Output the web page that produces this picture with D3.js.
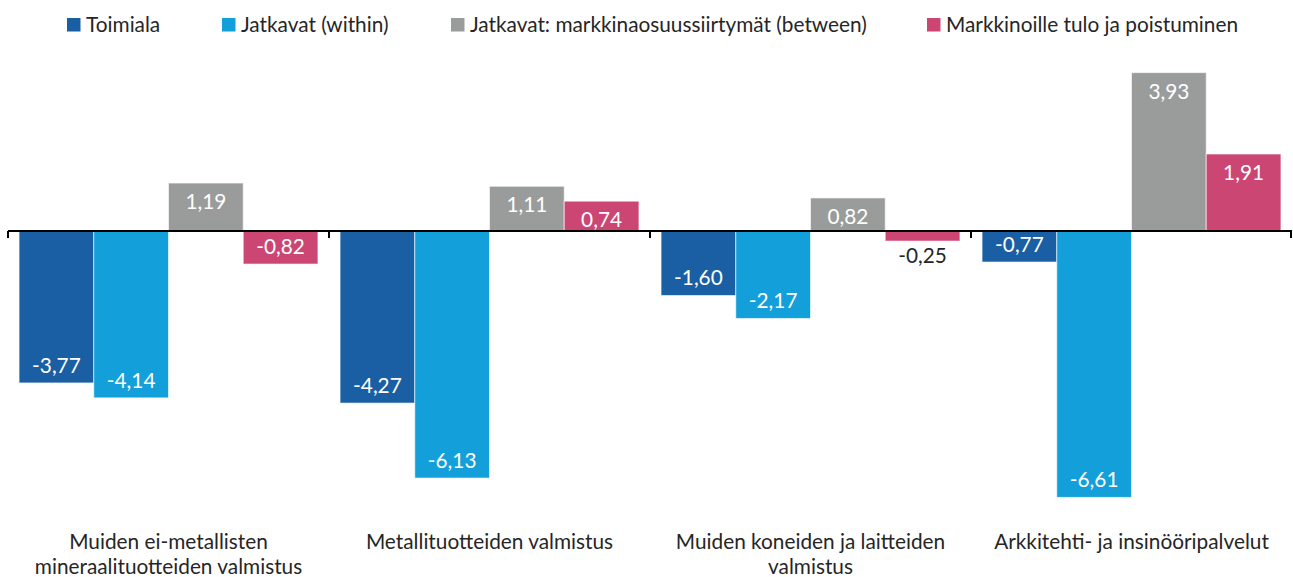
<!DOCTYPE html>
<html lang="fi">
<head>
    <meta charset="UTF-8">
    <title>Toimialat</title>
    <script src="https://cdnjs.cloudflare.com/ajax/libs/d3/7.8.5/d3.min.js"></script>
    <style>
        body { margin: 0; background: #fff; font-family: Lato, "Open Sans", sans-serif; }
        svg text { fill: #262626; }
        .bar-label { font-size: 20.8px; text-anchor: middle; }
        .legend text { font-size: 20.8px; }
        .cat-label { font-size: 20.8px; text-anchor: middle; }
    </style>
</head>
<body>
    <div id="chart"></div>
    <script>
        // Data
        const categories = [
            ["Muiden ei-metallisten", "mineraalituotteiden valmistus"],
            ["Metallituotteiden valmistus"],
            ["Muiden koneiden ja laitteiden", "valmistus"],
            ["Arkkitehti- ja insinööripalvelut"]
        ];
        const seriesNames = [
            "Toimiala",
            "Jatkavat (within)",
            "Jatkavat: markkinaosuussiirtymät (between)",
            "Markkinoille tulo ja poistuminen"
        ];
        const toimiala = [-3.77, -4.27, -1.60, -0.77];
        const within = [-4.14, -6.13, -2.17, -6.61];
        const between = [1.19, 1.11, 0.82, 3.93];
        const entryExit = [-0.82, 0.74, -0.25, 1.91];
        const colors = ["#1a5fa3", "#139fd9", "#9a9c9c", "#cc4673"];

        const seriesValues = [toimiala, within, between, entryExit];

        const width = 1293, height = 577;
        const svg = d3.select("#chart").append("svg")
            .attr("width", width)
            .attr("height", height);

        const x0 = d3.scaleBand()
            .domain(d3.range(categories.length))
            .range([8, 1292])
            .paddingInner(0);

        const x1 = d3.scaleBand()
            .domain(d3.range(seriesNames.length))
            .range([0, x0.bandwidth()])
            .paddingInner(0)
            .paddingOuter(0.148);

        const y = d3.scaleLinear()
            .domain([-7, 4.5])
            .range([513.1, 49.65]);

        const fmt = v => d3.format(".2f")(v).replace(".", ",").replace("−", "-");
        const small = v => Math.abs(y(v) - y(0)) < 25;

        // Bars
        const groups = svg.append("g").selectAll("g")
            .data(categories.map((c, i) => i))
            .join("g")
            .attr("transform", i => `translate(${x0(i)},0)`);

        groups.selectAll("rect")
            .data(i => seriesValues.map((s, k) => ({ k, v: s[i] })))
            .join("rect")
            .attr("x", d => x1(d.k))
            .attr("width", x1.bandwidth())
            .attr("y", d => y(Math.max(0, d.v)))
            .attr("height", d => Math.abs(y(d.v) - y(0)))
            .attr("fill", d => colors[d.k])
            .attr("stroke", "#ffffff")
            .attr("stroke-opacity", 0.6)
            .attr("stroke-width", 1);

        groups.selectAll("text")
            .data(i => seriesValues.map((s, k) => ({ k, v: s[i] })))
            .join("text")
            .attr("class", "bar-label")
            .attr("x", d => x1(d.k) + x1.bandwidth() / 2)
            .attr("y", d => {
                if (small(d.v)) return y(d.v) + 22;
                return d.v < 0 ? y(d.v) - 10 : y(d.v) + 26;
            })
            .style("fill", d => small(d.v) ? "#262626" : "#ffffff")
            .text(d => fmt(d.v));

        // Zero axis with tick marks between groups
        const axis = svg.append("g").attr("transform", `translate(0,${y(0)})`);
        axis.append("line")
            .attr("x1", x0.range()[0]).attr("x2", x0.range()[1])
            .attr("stroke", "#000").attr("stroke-width", 2);
        axis.selectAll(".tick")
            .data(d3.range(categories.length + 1))
            .join("line")
            .attr("x1", i => i < categories.length ? x0(i) : x0.range()[1] - 1)
            .attr("x2", i => i < categories.length ? x0(i) : x0.range()[1] - 1)
            .attr("y1", 0).attr("y2", 7)
            .attr("stroke", "#000").attr("stroke-width", 2);

        // Category labels
        svg.append("g").selectAll("text")
            .data(categories)
            .join("text")
            .attr("class", "cat-label")
            .attr("x", (c, i) => x0(i) + x0.bandwidth() / 2)
            .attr("y", 549)
            .selectAll("tspan")
            .data(c => c)
            .join("tspan")
            .attr("x", function() { return d3.select(this.parentNode).attr("x"); })
            .attr("dy", (t, j) => j === 0 ? 0 : 25)
            .text(t => t);

        // Legend
        const legendX = [67, 222, 451, 927];
        const legend = svg.append("g").attr("class", "legend")
            .selectAll("g")
            .data(seriesNames)
            .join("g")
            .attr("transform", (d, i) => `translate(${legendX[i]},18)`);
        legend.append("rect")
            .attr("width", 13.5).attr("height", 13.5)
            .attr("fill", (d, i) => colors[i]);
        legend.append("text")
            .attr("x", 19).attr("y", 13.5)
            .text(d => d);
    </script>
</body>
</html>
